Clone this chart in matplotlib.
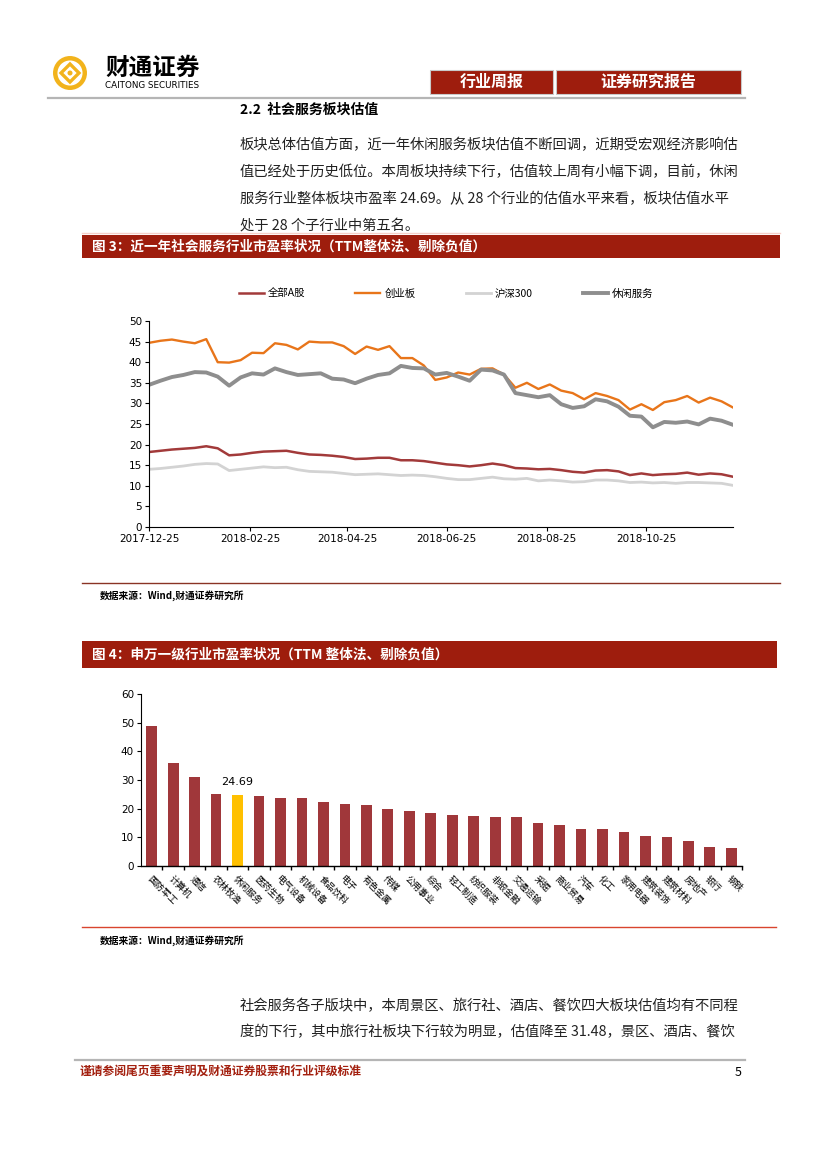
import matplotlib
matplotlib.use('Agg')
import matplotlib.pyplot as plt
import matplotlib.dates as mdates
from matplotlib.patches import Rectangle, Circle, Polygon
import numpy as np
import pandas as pd

plt.rcParams['font.family'] = ['Noto Sans CJK SC', 'DejaVu Sans']
plt.rcParams['axes.unicode_minus'] = False

W, H = 827, 1170

# ---- data: chart 3 (weekly PE, TTM) ----
start_date = '2017-12-25'
n_weeks = 52
all_a = [18.2, 18.5, 18.8, 19.0, 19.2, 19.6, 19.1, 17.4, 17.6, 18.0, 18.3, 18.4, 18.5,
         18.0, 17.6, 17.5, 17.3, 17.0, 16.5, 16.6, 16.8, 16.8, 16.2, 16.2, 16.0, 15.6,
         15.2, 15.0, 14.7, 15.0, 15.4, 15.0, 14.3, 14.2, 14.0, 14.1, 13.8, 13.4, 13.2,
         13.7, 13.8, 13.5, 12.6, 13.0, 12.6, 12.8, 12.9, 13.2, 12.7, 13.0, 12.8, 12.2]
chinext = [44.7, 45.2, 45.5, 45.0, 44.6, 45.6, 40.0, 39.9, 40.5, 42.3, 42.2, 44.6, 44.2,
           43.1, 45.0, 44.8, 44.8, 43.9, 42.0, 43.8, 43.0, 43.9, 41.0, 41.0, 39.2, 35.7,
           36.3, 37.5, 37.0, 38.4, 38.5, 37.0, 33.8, 35.0, 33.5, 34.6, 33.1, 32.5, 31.0,
           32.5, 31.8, 30.8, 28.5, 29.8, 28.4, 30.3, 30.8, 31.8, 30.2, 31.4, 30.5, 29.0]
hs300 = [14.0, 14.2, 14.5, 14.8, 15.2, 15.4, 15.3, 13.7, 14.0, 14.3, 14.6, 14.4, 14.5,
         13.9, 13.5, 13.4, 13.3, 13.0, 12.7, 12.8, 12.9, 12.7, 12.5, 12.6, 12.5, 12.2,
         11.8, 11.5, 11.5, 11.8, 12.1, 11.7, 11.6, 11.8, 11.2, 11.4, 11.2, 10.9, 11.0,
         11.4, 11.4, 11.2, 10.8, 10.9, 10.7, 10.8, 10.6, 10.8, 10.8, 10.7, 10.6, 10.1]
leisure = [34.5, 35.5, 36.4, 36.9, 37.6, 37.5, 36.5, 34.3, 36.3, 37.3, 37.0, 38.5, 37.6,
           36.9, 37.1, 37.3, 36.0, 35.8, 34.9, 36.0, 36.9, 37.3, 39.1, 38.6, 38.5, 37.0,
           37.4, 36.5, 35.5, 38.2, 38.0, 37.0, 32.5, 32.0, 31.5, 32.0, 29.8, 28.9, 29.3,
           31.0, 30.5, 29.2, 27.0, 26.8, 24.2, 25.5, 25.3, 25.6, 24.9, 26.3, 25.8, 24.8]
series_names = ['全部A股', '创业板', '沪深300', '休闲服务']
date_ticks = ['2017-12-25', '2018-02-25', '2018-04-25', '2018-06-25', '2018-08-25', '2018-10-25']

# ---- data: chart 4 (SW level-1 industries PE) ----
industries = ['国防军工', '计算机', '通信', '农林牧渔', '休闲服务', '医药生物', '电气设备',
              '机械设备', '食品饮料', '电子', '有色金属', '传媒', '公用事业', '综合',
              '轻工制造', '纺织服装', '非银金融', '交通运输', '采掘', '商业贸易', '汽车',
              '化工', '家用电器', '建筑装饰', '建筑材料', '房地产', '银行', '钢铁']
pe_values = [49.0, 36.0, 30.9, 25.0, 24.69, 24.3, 23.6, 23.6, 22.5, 21.8, 21.4, 20.0,
             19.3, 18.5, 17.8, 17.5, 17.1, 17.1, 15.1, 14.4, 13.0, 13.0, 11.9, 10.5,
             10.1, 8.7, 6.5, 6.2]
highlight = '休闲服务'

para1 = ['板块总体估值方面，近一年休闲服务板块估值不断回调，近期受宏观经济影响估',
         '值已经处于历史低位。本周板块持续下行，估值较上周有小幅下调，目前，休闲',
         '服务行业整体板块市盈率 24.69。从 28 个行业的估值水平来看，板块估值水平',
         '处于 28 个子行业中第五名。']
para2 = ['社会服务各子版块中，本周景区、旅行社、酒店、餐饮四大板块估值均有不同程',
         '度的下行，其中旅行社板块下行较为明显，估值降至 31.48，景区、酒店、餐饮']

RED = '#9E1D0D'
GOLD = '#F2B31C'


def fx(x):
    return x / W


def fy(y):
    return 1 - y / H


def ax_rect(x0, y0, x1, y1):
    return [fx(x0), fy(y1), fx(x1) - fx(x0), fy(y0) - fy(y1)]


fig = plt.figure(figsize=(W / 100, H / 100), dpi=100)
fig.patch.set_facecolor('white')

# ---- header / logo ----
logo = fig.add_axes(ax_rect(52, 55, 88, 91))
logo.set_xlim(-1, 1)
logo.set_ylim(-1, 1)
logo.set_aspect('equal')
logo.axis('off')
logo.add_patch(Circle((0, 0), 0.82, facecolor='none', edgecolor=GOLD, lw=3.2))
logo.add_patch(Polygon([(0, 0.5), (0.5, 0), (0, -0.5), (-0.5, 0)], closed=True,
                       facecolor='none', edgecolor=GOLD, lw=2.4))
logo.add_patch(Circle((0, 0), 0.14, facecolor=GOLD, edgecolor='none'))

fig.text(fx(105), fy(68), '财通证券', fontsize=17, fontweight='bold', va='center', ha='left')
fig.text(fx(105), fy(85), 'CAITONG SECURITIES', fontsize=6.3, va='center', ha='left',
         family='DejaVu Sans')

for (x0, x1, txt) in [(430, 553, '行业周报'), (556, 741, '证券研究报告')]:
    fig.add_artist(Rectangle((fx(x0), fy(94)), fx(x1) - fx(x0), 24 / H, transform=fig.transFigure,
                             facecolor=RED, edgecolor='#C9C9C9', lw=0.8))
    fig.text(fx((x0 + x1) / 2), fy(82), txt, color='white', fontsize=11.5, fontweight='bold',
             ha='center', va='center')
fig.add_artist(plt.Line2D([fx(48), fx(745)], [fy(97.5), fy(97.5)], color='#B5B5B5', lw=1.6))

fig.text(fx(240), fy(110), '2.2  社会服务板块估值', fontsize=10, fontweight='bold', va='center')
for i, line in enumerate(para1):
    fig.text(fx(240), fy(145 + 27 * i), line, fontsize=10.3, va='center', color='#222222')

# ---- figure 3 title bar ----
fig.add_artist(plt.Line2D([fx(82), fx(780)], [fy(233), fy(233)], color='#F6CFC8', lw=1.0))
fig.add_artist(Rectangle((fx(82), fy(258)), fx(780) - fx(82), 23 / H, transform=fig.transFigure,
                         facecolor=RED, edgecolor='none'))
fig.text(fx(92), fy(246.5), '图 3：近一年社会服务行业市盈率状况（TTM整体法、剔除负值）',
         color='white', fontsize=9.8, fontweight='bold', va='center')

# ---- chart 3 ----
dates = pd.date_range(start_date, periods=n_weeks, freq='7D')
ax1 = fig.add_axes(ax_rect(149, 321, 733, 527))
styles = [(all_a, '#A23A3A', 1.8), (chinext, '#E8751A', 1.7), (hs300, '#D3D3D3', 2.0),
          (leisure, '#8E8E8E', 2.8)]
for (vals, col, lw), name in zip(styles, series_names):
    ax1.plot(dates, vals, color=col, lw=lw, label=name, solid_joinstyle='round')
ax1.set_ylim(0, 50)
ax1.set_yticks(np.arange(0, 51, 5))
ax1.set_xlim(dates[0], dates[-1])
ax1.set_xticks(pd.to_datetime(date_ticks))
ax1.xaxis.set_major_formatter(mdates.DateFormatter('%Y-%m-%d'))
ax1.tick_params(axis='both', labelsize=7.5, length=3, width=0.8, direction='out', pad=2)
for s in ['top', 'right']:
    ax1.spines[s].set_visible(False)
for s in ['left', 'bottom']:
    ax1.spines[s].set_linewidth(0.8)
for lab in ax1.get_xticklabels() + ax1.get_yticklabels():
    lab.set_family('DejaVu Sans')
fig.legend(loc='center', bbox_to_anchor=(fx(446), fy(294)), ncol=4, frameon=False,
           fontsize=7.5, handlelength=2.4, columnspacing=4.8, handletextpad=0.4)

fig.add_artist(plt.Line2D([fx(82), fx(780)], [fy(583), fy(583)], color='#8A3324', lw=1.0))
fig.text(fx(100), fy(596), '数据来源：Wind,财通证券研究所', fontsize=7, fontweight='bold', va='center')

# ---- figure 4 title bar ----
fig.add_artist(Rectangle((fx(82), fy(668)), fx(777) - fx(82), 27 / H, transform=fig.transFigure,
                         facecolor=RED, edgecolor='none'))
fig.text(fx(92), fy(655), '图 4：申万一级行业市盈率状况（TTM 整体法、剔除负值）',
         color='white', fontsize=9.8, fontweight='bold', va='center')

# ---- chart 4 ----
ax2 = fig.add_axes(ax_rect(141, 694, 742, 866))
xpos = np.arange(len(industries))
colors = ['#FFC000' if n == highlight else '#A0373A' for n in industries]
ax2.bar(xpos, pe_values, width=0.5, color=colors)
hi = industries.index(highlight)
ax2.text(xpos[hi], pe_values[hi] + 3, '%.2f' % pe_values[hi], ha='center', va='bottom',
         fontsize=8, family='DejaVu Sans')
ax2.set_xlim(-0.5, len(industries) - 0.5)
ax2.set_ylim(0, 60)
ax2.set_yticks(np.arange(0, 61, 10))
ax2.set_xticks(xpos)
ax2.set_xticklabels(industries, rotation=-45, ha='left', va='top', rotation_mode='anchor',
                    fontsize=6.6)
ax2.set_xticks(xpos + 0.5, minor=True)
ax2.tick_params(axis='x', which='major', length=0, pad=6)
ax2.tick_params(axis='x', which='minor', length=3, width=1.0, direction='out')
ax2.tick_params(axis='y', labelsize=7.5, length=3, width=0.8, direction='out', pad=2)
for lab in ax2.get_yticklabels():
    lab.set_family('DejaVu Sans')
for s in ['top', 'right']:
    ax2.spines[s].set_visible(False)
ax2.spines['left'].set_linewidth(0.8)
ax2.spines['bottom'].set_linewidth(1.0)

fig.add_artist(plt.Line2D([fx(82), fx(776)], [fy(927), fy(927)], color='#D9452E', lw=1.0))
fig.text(fx(100), fy(941), '数据来源：Wind,财通证券研究所', fontsize=7, fontweight='bold', va='center')

for i, line in enumerate(para2):
    fig.text(fx(240), fy(1006 + 26 * i), line, fontsize=10.3, va='center', color='#222222')

# ---- footer ----
fig.add_artist(plt.Line2D([fx(75), fx(745)], [fy(1060), fy(1060)], color='#B5B5B5', lw=1.6))
fig.text(fx(80), fy(1072), '谨请参阅尾页重要声明及财通证券股票和行业评级标准', fontsize=8.5,
         fontweight='bold', color='#A3200F', va='center')
fig.text(fx(738), fy(1072), '5', fontsize=9, va='center', ha='center')

fig.savefig('out.png', dpi=100)
